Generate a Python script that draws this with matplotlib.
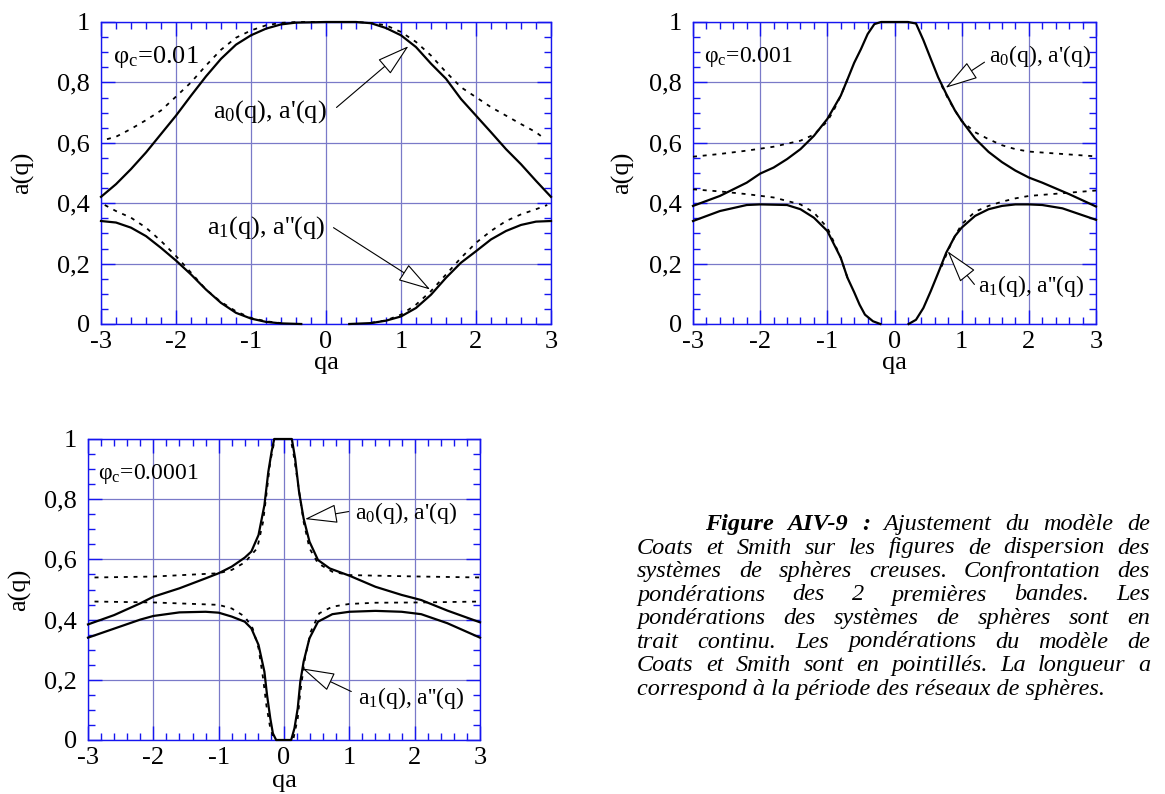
import numpy as np
import matplotlib
matplotlib.use("Agg")
import matplotlib.pyplot as plt
from matplotlib.ticker import MultipleLocator, FuncFormatter

# --- 1. Data (qa, a(q)) ---
nan = np.nan

# phi_c = 0.01
p1_a0_x = [-3, -2.8, -2.6, -2.4, -2.2, -2.0, -1.8, -1.6, -1.4, -1.2, -1.0, -0.8, -0.6, -0.4, 0,
           0.4, 0.6, 0.8, 1.0, 1.2, 1.4, 1.6, 1.8, 2.0, 2.2, 2.4, 2.6, 2.8, 3.0]
p1_a0_y = [0.421, 0.463, 0.513, 0.568, 0.629, 0.69, 0.756, 0.82, 0.878, 0.925, 0.956, 0.978, 0.992, 0.998, 1.0,
           1.0, 0.996, 0.98, 0.956, 0.917, 0.862, 0.812, 0.745, 0.69, 0.635, 0.579, 0.529, 0.474, 0.421]
p1_ap_x = [-2.92, -2.8, -2.6, -2.4, -2.2, -2.0, -1.8, -1.6, -1.4, -1.2, -1.0, -0.8, -0.6, -0.4, 0,
           0.4, 0.6, 0.8, 1.0, 1.2, 1.4, 1.6, 1.8, 2.0, 2.2, 2.4, 2.6, 2.8, 2.92]
p1_ap_y = [0.612, 0.62, 0.646, 0.675, 0.707, 0.753, 0.80, 0.856, 0.908, 0.948, 0.972, 0.989, 0.997, 1.0, 1.0,
           1.0, 0.997, 0.989, 0.967, 0.934, 0.889, 0.834, 0.784, 0.751, 0.718, 0.69, 0.662, 0.635, 0.612]
p1_a1_x = [-3, -2.8, -2.6, -2.4, -2.2, -2.0, -1.8, -1.6, -1.4, -1.2, -1.0, -0.8, -0.6, -0.33, 0,
           0.31, 0.6, 0.8, 1.0, 1.2, 1.4, 1.6, 1.8, 2.0, 2.2, 2.4, 2.6, 2.8, 3.0]
p1_a1_y = [0.341, 0.336, 0.319, 0.291, 0.252, 0.21, 0.164, 0.114, 0.07, 0.037, 0.018, 0.007, 0.002, 0.0, nan,
           0.0, 0.003, 0.011, 0.025, 0.053, 0.097, 0.153, 0.203, 0.241, 0.28, 0.308, 0.328, 0.339, 0.341]
p1_app_x = [-2.95, -2.8, -2.6, -2.4, -2.2, -2.0, -1.8, -1.6, -1.4, -1.2, -1.0, -0.8, -0.6, 0,
            0.6, 0.8, 1.0, 1.2, 1.4, 1.6, 1.8, 2.0, 2.2, 2.4, 2.6, 2.8, 2.95]
p1_app_y = [0.394, 0.374, 0.352, 0.319, 0.275, 0.225, 0.17, 0.114, 0.073, 0.042, 0.02, 0.009, 0.003, nan,
            0.004, 0.012, 0.031, 0.064, 0.109, 0.164, 0.219, 0.269, 0.308, 0.341, 0.363, 0.38, 0.394]

# phi_c = 0.001
p2_a0_x = [-3, -2.6, -2.2, -2.0, -1.8, -1.6, -1.4, -1.2, -1.0, -0.8, -0.7, -0.6, -0.5, -0.4, -0.3, -0.2, 0,
           0.2, 0.32, 0.43, 0.54, 0.65, 0.77, 0.9, 1.0, 1.2, 1.4, 1.6, 1.8, 2.0, 2.2, 2.6, 3.0]
p2_a0_y = [0.391, 0.424, 0.468, 0.498, 0.518, 0.546, 0.579, 0.623, 0.679, 0.756, 0.81, 0.865, 0.91, 0.96, 0.993, 1.0, 1.0,
           1.0, 0.995, 0.94, 0.878, 0.817, 0.762, 0.707, 0.673, 0.614, 0.57, 0.536, 0.508, 0.485, 0.468, 0.43, 0.389]
p2_ap_x = [-3, -2.6, -2.2, -1.8, -1.4, -1.2, -1.0, -0.9, -0.8, -0.7, 0,
           0.7, 0.8, 0.9, 1.0, 1.2, 1.4, 1.6, 1.8, 2.0, 2.5, 3.0]
p2_ap_y = [0.554, 0.563, 0.574, 0.587, 0.607, 0.627, 0.671, 0.71, 0.756, 0.81, nan,
           0.79, 0.745, 0.707, 0.672, 0.635, 0.612, 0.592, 0.579, 0.571, 0.563, 0.555]
p2_a1_x = [-3, -2.6, -2.2, -2.0, -1.6, -1.4, -1.2, -1.0, -0.8, -0.7, -0.6, -0.52, -0.44, -0.32, -0.21, 0,
           0.21, 0.32, 0.43, 0.54, 0.65, 0.77, 0.9, 1.0, 1.2, 1.4, 1.6, 1.8, 2.0, 2.2, 2.5, 3.0]
p2_a1_y = [0.341, 0.374, 0.394, 0.396, 0.394, 0.38, 0.352, 0.308, 0.219, 0.153, 0.105, 0.064, 0.031, 0.009, 0.0, nan,
           0.0, 0.014, 0.053, 0.109, 0.169, 0.236, 0.291, 0.319, 0.358, 0.38, 0.391, 0.396, 0.396, 0.394, 0.383, 0.345]
p2_app_x = [-3, -2.6, -2.2, -1.8, -1.4, -1.2, -1.0, -0.9, -0.8, -0.7, 0,
            0.7, 0.8, 0.9, 1.0, 1.2, 1.4, 1.6, 1.8, 2.0, 2.5, 3.0]
p2_app_y = [0.446, 0.439, 0.43, 0.419, 0.396, 0.369, 0.319, 0.27, 0.219, 0.153, nan,
            0.19, 0.245, 0.291, 0.33, 0.372, 0.391, 0.405, 0.416, 0.424, 0.433, 0.442]

# phi_c = 0.0001
p3_a0_x = [-3, -2.6, -2.2, -2.0, -1.6, -1.2, -1.0, -0.8, -0.6, -0.5, -0.39, -0.3, -0.24, -0.19, -0.15, 0,
           0.12, 0.17, 0.23, 0.3, 0.39, 0.52, 0.7, 1.0, 1.4, 1.8, 2.1, 2.5, 3.0]
p3_a0_y = [0.384, 0.415, 0.454, 0.476, 0.504, 0.537, 0.554, 0.576, 0.606, 0.626, 0.681, 0.78, 0.891, 0.958, 1.0, 1.0,
           1.0, 0.936, 0.825, 0.736, 0.659, 0.598, 0.57, 0.546, 0.509, 0.482, 0.465, 0.43, 0.391]
p3_ap_x = [-2.9, -2.0, -1.0, -0.8, -0.6, -0.5, -0.41, -0.32, -0.27, -0.21, -0.15, -0.11, 0,
           0.1, 0.14, 0.21, 0.3, 0.39, 0.52, 0.74, 1.0, 1.4, 2.1, 3.0]
p3_ap_y = [0.54, 0.543, 0.554, 0.565, 0.59, 0.615, 0.637, 0.725, 0.814, 0.925, 0.99, 1.0, 1.0,
           1.0, 0.958, 0.858, 0.725, 0.637, 0.587, 0.559, 0.548, 0.546, 0.543, 0.54]
p3_a1_x = [-3, -2.6, -2.2, -2.0, -1.6, -1.2, -1.0, -0.8, -0.6, -0.5, -0.39, -0.3, -0.26, -0.21, -0.17, -0.12, 0,
           0.11, 0.16, 0.21, 0.25, 0.3, 0.39, 0.52, 0.74, 1.0, 1.4, 1.8, 2.1, 2.5, 3.0]
p3_a1_y = [0.34, 0.37, 0.40, 0.412, 0.424, 0.426, 0.423, 0.41, 0.393, 0.371, 0.316, 0.227, 0.15, 0.072, 0.022, 0.0, 0.0,
           0.0, 0.039, 0.105, 0.194, 0.26, 0.338, 0.393, 0.418, 0.426, 0.429, 0.426, 0.418, 0.388, 0.34]
p3_app_x = [-2.9, -2.0, -1.0, -0.8, -0.6, -0.48, -0.39, -0.32, -0.27, -0.21, -0.15, 0,
            0.14, 0.21, 0.25, 0.32, 0.41, 0.54, 0.74, 1.0, 1.4, 2.1, 3.0]
p3_app_y = [0.46, 0.457, 0.449, 0.437, 0.41, 0.371, 0.305, 0.205, 0.116, 0.039, 0.0, 0.0,
            0.0, 0.072, 0.16, 0.271, 0.36, 0.421, 0.443, 0.452, 0.456, 0.457, 0.46]

phi_labels = ["0.01", "0.001", "0.0001"]

caption_lines = [
    "Ajustement du modèle de",
    "Coats et Smith sur les figures de dispersion des",
    "systèmes de sphères creuses. Confrontation des",
    "pondérations des 2 premières bandes. Les",
    "pondérations des systèmes de sphères sont en",
    "trait continu. Les pondérations du modèle de",
    "Coats et Smith sont en pointillés. La longueur a",
    "correspond à la période des réseaux de sphères.",
]
caption_head = "Figure AIV-9 :"

# --- 2. Style ---
plt.rcParams['font.family'] = ['Liberation Serif', 'DejaVu Serif']
plt.rcParams['mathtext.fontset'] = 'custom'
plt.rcParams['mathtext.rm'] = 'Liberation Serif'
plt.rcParams['mathtext.it'] = 'Liberation Serif:italic'
plt.rcParams['axes.unicode_minus'] = False

SPINE = '#1515f0'
GRID = '#7a7ac8'
FS = 19

W, H = 1165, 794
fig = plt.figure(figsize=(W / 100, H / 100), dpi=100)


def px_axes(left, top, right, bottom):
    """Axes from pixel box of the reference picture."""
    return fig.add_axes([left / W, 1 - bottom / H, (right - left) / W, (bottom - top) / H])


def ytick_fmt(v, pos):
    if abs(v) < 1e-9:
        return "0"
    if abs(v - 1) < 1e-9:
        return "1"
    return ("%.1f" % v).replace(".", ",")


def style_axes(ax, xlab_y):
    ax.set_xlim(-3, 3)
    ax.set_ylim(0, 1)
    ax.xaxis.set_major_locator(MultipleLocator(1))
    ax.xaxis.set_minor_locator(MultipleLocator(0.2))
    ax.yaxis.set_major_locator(MultipleLocator(0.2))
    ax.yaxis.set_minor_locator(MultipleLocator(0.05))
    ax.xaxis.set_major_formatter(FuncFormatter(lambda v, p: "%d" % round(v)))
    ax.yaxis.set_major_formatter(FuncFormatter(ytick_fmt))
    ax.tick_params(which='both', direction='in', top=True, right=True,
                   color=SPINE, labelcolor='black', labelsize=FS, width=1.0)
    ax.tick_params(which='major', length=10)
    ax.tick_params(which='minor', length=5)
    ax.tick_params(axis='y', pad=8)
    ax.tick_params(axis='x', pad=5)
    ax.grid(which='major', color=GRID, lw=0.9)
    ax.set_axisbelow(True)
    for s in ax.spines.values():
        s.set_color(SPINE)
        s.set_linewidth(1.0)
    ax.set_xlabel("qa", fontsize=FS, va='center')
    ax.set_ylabel("a(q)", fontsize=FS, va='center')
    ax.xaxis.set_label_coords(0.5, xlab_y)
    ax.yaxis.set_label_coords(-0.175, 0.5)


def draw_panel(ax, curves, phi, txt0, txt1, fs):
    for x, y, ls in curves:
        if ls == 'solid':
            ax.plot(x, y, color='black', lw=1.6, clip_on=False, zorder=3)
        else:
            ax.plot(x, y, color='black', lw=1.3, dashes=(2.2, 3.2), clip_on=False, zorder=3)
    ax.text(-2.84, 0.885, "φ$_\\mathrm{c}$=" + phi, fontsize=fs, va='center', ha='left')
    for (tx, ty), (tail, tip), lab in [txt0, txt1]:
        ax.text(tx, ty, lab, fontsize=fs, va='center', ha='left')
        ax.annotate('', xy=tip, xytext=tail,
                    arrowprops=dict(arrowstyle='-|>,head_length=1.1,head_width=0.32',
                                    mutation_scale=19, fc='white', ec='black', lw=0.8,
                                    shrinkA=0, shrinkB=0), zorder=4)


LAB0 = "a$_\\mathrm{0}$(q), a'(q)"
LAB1 = "a$_\\mathrm{1}$(q), a''(q)"

# --- 3. Panels ---
ax1 = px_axes(101, 22, 551, 324)
style_axes(ax1, -0.13)
draw_panel(ax1,
           [(p1_a0_x, p1_a0_y, 'solid'), (p1_ap_x, p1_ap_y, 'dash'),
            (p1_a1_x, p1_a1_y, 'solid'), (p1_app_x, p1_app_y, 'dash')],
           phi_labels[0],
           ((-1.51, 0.705), ((0.14, 0.717), (1.10, 0.92)), LAB0),
           ((-1.59, 0.32), ((0.10, 0.319), (1.39, 0.114)), LAB1), 19)

ax2 = px_axes(693, 22, 1096, 324)
style_axes(ax2, -0.13)
draw_panel(ax2,
           [(p2_a0_x, p2_a0_y, 'solid'), (p2_ap_x, p2_ap_y, 'dash'),
            (p2_a1_x, p2_a1_y, 'solid'), (p2_app_x, p2_app_y, 'dash')],
           phi_labels[1],
           ((1.40, 0.889), ((1.34, 0.867), (0.76, 0.782)), LAB0),
           ((1.25, 0.125), ((1.19, 0.131), (0.79, 0.241)), LAB1), 17)

ax3 = px_axes(88, 439, 480, 740)
style_axes(ax3, -0.135)
draw_panel(ax3,
           [(p3_a0_x, p3_a0_y, 'solid'), (p3_ap_x, p3_ap_y, 'dash'),
            (p3_a1_x, p3_a1_y, 'solid'), (p3_app_x, p3_app_y, 'dash')],
           phi_labels[2],
           ((1.08, 0.753), ((0.99, 0.759), (0.32, 0.734)), LAB0),
           ((1.14, 0.138), ((1.03, 0.161), (0.28, 0.238)), LAB1), 17)

# --- 4. Justified caption ---
renderer = fig.canvas.get_renderer()
CAP_FS = 17.5
x_left, x_right = 637, 1150
baselines = [530, 553.5, 577, 600.5, 624, 647.5, 671, 694.5]


def put_word(x, yb, word, weight):
    t = fig.text(x / W, 1 - yb / H, word, fontsize=CAP_FS, style='italic',
                 weight=weight, ha='left', va='baseline')
    return t, t.get_window_extent(renderer).width


for i, line in enumerate(caption_lines):
    yb = baselines[i]
    if i == len(caption_lines) - 1:
        fig.text(x_left / W, 1 - yb / H, line, fontsize=CAP_FS, style='italic',
                 ha='left', va='baseline')
        continue
    words = [(w, 'normal') for w in line.split()]
    start = x_left
    if i == 0:
        words = [(w, 'bold') for w in caption_head.split()] + words
        start = 705
    placed = [put_word(0, yb, w, wt) for w, wt in words]
    total = sum(w for _, w in placed)
    gap = (x_right - start - total) / (len(placed) - 1)
    x = start
    for t, w in placed:
        t.set_x(x / W)
        x += w + gap

fig.savefig("out.png", dpi=100)
